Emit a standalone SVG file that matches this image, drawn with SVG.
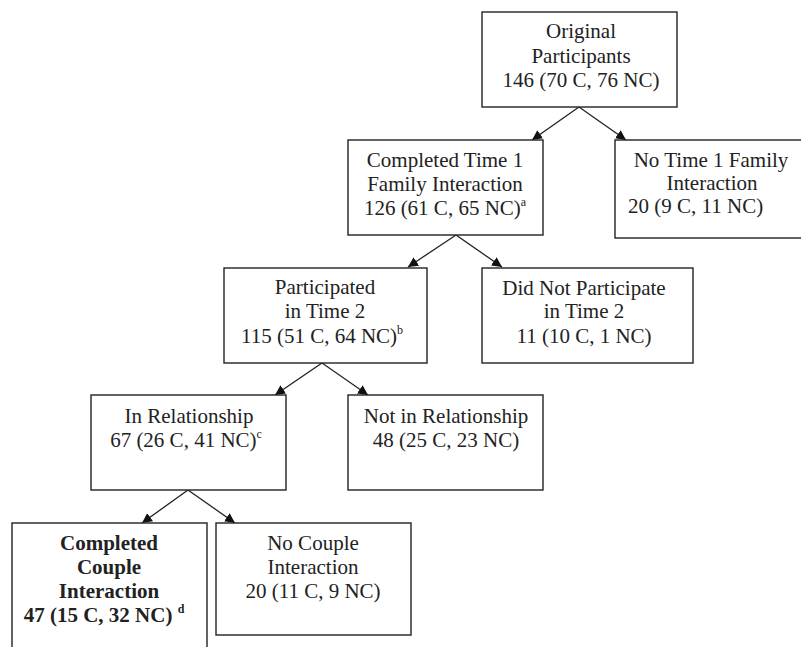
<svg xmlns="http://www.w3.org/2000/svg" width="801" height="647" viewBox="0 0 801 647">
<style>
.box{fill:#fff;stroke:#222;stroke-width:1.4}
.t{font-family:"Liberation Serif","Times New Roman",serif;font-size:21px;fill:#222;text-anchor:middle}
.b{font-weight:bold}
.sup{font-size:12px}
.c{stroke:#222;stroke-width:1.3;fill:none;marker-end:url(#ah)}
</style>
<defs>
<marker id="ah" viewBox="0 0 10 10" refX="10" refY="5" markerWidth="10" markerHeight="10" markerUnits="userSpaceOnUse" orient="auto">
<path d="M0,0 L10,5 L0,10 z" fill="#111"/>
</marker>
</defs>
<rect width="801" height="647" fill="#fff"/>
<g id="connectors">
<line class="c" x1="579" y1="107" x2="532" y2="140"/>
<line class="c" x1="579" y1="107" x2="626" y2="140"/>
<line class="c" x1="456" y1="235" x2="408" y2="267"/>
<line class="c" x1="456" y1="235" x2="502" y2="267"/>
<line class="c" x1="322" y1="363" x2="275" y2="395"/>
<line class="c" x1="322" y1="363" x2="368" y2="395"/>
<line class="c" x1="188" y1="490" x2="142" y2="523"/>
<line class="c" x1="188" y1="490" x2="235" y2="523"/>
</g>
<g id="original">
<rect class="box" x="482" y="12" width="195" height="95"/>
<text class="t" x="581" y="38">Original</text>
<text class="t" x="581" y="63">Participants</text>
<text class="t" x="581" y="87">146 (70 C, 76 NC)</text>
</g>
<g id="completed-t1">
<rect class="box" x="348" y="140" width="195" height="95"/>
<text class="t" x="445" y="167">Completed Time 1</text>
<text class="t" x="445" y="191">Family Interaction</text>
<text class="t" x="445" y="215">126 (61 C, 65 NC)<tspan class="sup" dy="-9">a</tspan></text>
</g>
<g id="no-t1">
<rect class="box" x="615" y="140" width="190" height="98"/>
<text class="t" x="711" y="167">No Time 1 Family</text>
<text class="t" x="712" y="190">Interaction</text>
<text class="t" x="628" y="213" style="text-anchor:start">20 (9 C, 11 NC)</text>
</g>
<g id="participated">
<rect class="box" x="224" y="268" width="203" height="95"/>
<text class="t" x="325" y="294">Participated</text>
<text class="t" x="325" y="318">in Time 2</text>
<text class="t" x="322" y="343">115 (51 C, 64 NC)<tspan class="sup" dy="-9">b</tspan></text>
</g>
<g id="did-not-participate">
<rect class="box" x="482" y="268" width="211" height="95"/>
<text class="t" x="584" y="295">Did Not Participate</text>
<text class="t" x="584" y="318">in Time 2</text>
<text class="t" x="584" y="343">11 (10 C, 1 NC)</text>
</g>
<g id="in-relationship">
<rect class="box" x="91" y="395" width="195" height="95"/>
<text class="t" x="189" y="423">In Relationship</text>
<text class="t" x="186" y="447">67 (26 C, 41 NC)<tspan class="sup" dy="-9">c</tspan></text>
</g>
<g id="not-in-relationship">
<rect class="box" x="348" y="395" width="195" height="95"/>
<text class="t" x="446" y="423">Not in Relationship</text>
<text class="t" x="446" y="447">48 (25 C, 23 NC)</text>
</g>
<g id="completed-couple">
<rect class="box" x="12" y="523" width="195" height="140"/>
<text class="t b" x="109" y="550">Completed</text>
<text class="t b" x="109" y="574">Couple</text>
<text class="t b" x="109" y="598">Interaction</text>
<text class="t b" x="104" y="622">47 (15 C, 32 NC) <tspan class="sup" dy="-9">d</tspan></text>
</g>
<g id="no-couple">
<rect class="box" x="216" y="523" width="195" height="112"/>
<text class="t" x="313" y="550">No Couple</text>
<text class="t" x="313" y="574">Interaction</text>
<text class="t" x="313" y="598">20 (11 C, 9 NC)</text>
</g>
</svg>
